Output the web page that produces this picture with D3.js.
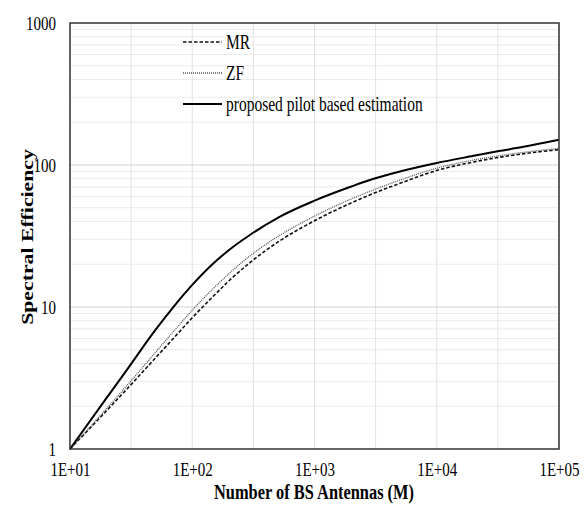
<!DOCTYPE html>
<html>
<head>
<meta charset="utf-8">
<script src="https://cdn.jsdelivr.net/npm/d3@7"></script>
<style>
  body { margin: 0; background: #fff; }
  svg { display: block; }
  text { font-family: "Liberation Serif", "Times New Roman", serif; fill: #000; }
</style>
</head>
<body>
<div id="chart"></div>
<script>
// values (log-log plot)
var antennas = [10, 20, 30, 50, 70, 100, 150, 200, 300, 500, 1000, 2000, 3000, 5000, 10000, 20000, 30000, 50000, 100000];
var mrValues = [1, 1.87, 2.71, 4.38, 6.0, 8.4, 12, 15.3, 20.7, 28.6, 40.5, 54.1, 62.8, 74.3, 91.5, 105, 112, 119.7, 128.3];
var zfValues = [1, 1.93, 2.87, 4.79, 6.7, 9.5, 13.6, 17.2, 23.1, 31.3, 43.7, 57.7, 66.5, 78.3, 95, 108.4, 115, 122.4, 131];
var proposedValues = [1, 2.3, 3.73, 6.89, 9.98, 14.3, 20.4, 25.2, 32.4, 42.5, 56.1, 70.5, 79.6, 90, 103.3, 116, 124, 133.7, 150.4];

var xTicks = [1e1, 1e2, 1e3, 1e4, 1e5];
var yTicks = [1, 10, 100, 1000];
var seriesNames = ["MR", "ZF", "proposed pilot based estimation"];

var width = 588,
    height = 506,
    margin = {top: 23, right: 29, bottom: 57, left: 70};

var stretch = 1.3; // the reference text is drawn taller than wide

var svg = d3.select("#chart").append("svg")
    .attr("width", width)
    .attr("height", height);

var g = svg.append("g")
    .attr("transform", "translate(" + margin.left + "," + margin.top + ")");

var w = width - margin.left - margin.right,
    h = height - margin.top - margin.bottom;

var x = d3.scaleLog().domain([10, 1e5]).range([0, w]);
var y = d3.scaleLog().domain([1, 1000]).range([h, 0]);

// vertical grid, every half decade
var xGrid = [];
for (var e = 1; e < 5; e += 0.5) xGrid.push(Math.pow(10, e));
xGrid.push(1e5);

// horizontal grid, 1..9 in each decade
var yMinor = [];
[1, 10, 100].forEach(function(base) {
  for (var k = 2; k <= 9; k++) yMinor.push(base * k);
});

g.append("g").selectAll("line")
  .data(yMinor)
  .enter().append("line")
    .attr("x1", 0).attr("x2", w)
    .attr("y1", function(d) { return y(d); })
    .attr("y2", function(d) { return y(d); })
    .attr("stroke", "#ebebeb");

g.append("g").selectAll("line")
  .data(xGrid)
  .enter().append("line")
    .attr("x1", function(d) { return x(d); })
    .attr("x2", function(d) { return x(d); })
    .attr("y1", 0).attr("y2", h)
    .attr("stroke", "#e2e2e2");

g.append("g").selectAll("line")
  .data([10, 100])
  .enter().append("line")
    .attr("x1", 0).attr("x2", w)
    .attr("y1", function(d) { return y(d); })
    .attr("y2", function(d) { return y(d); })
    .attr("stroke", "#d0d0d0");

// axes
var xAxis = d3.axisBottom(x)
    .tickValues(xTicks)
    .tickFormat(function(d) { return "1E+0" + Math.round(Math.log10(d)); })
    .tickSize(0);

var gx = g.append("g")
    .attr("transform", "translate(0," + h + ")")
    .call(xAxis);
gx.select(".domain").remove();
gx.selectAll("text")
    .attr("y", 0).attr("dy", null)
    .attr("transform", "translate(0,27) scale(1," + stretch + ")")
    .style("font-size", "15px")
    .attr("fill", "#000");

var yAxis = d3.axisLeft(y)
    .tickValues(yTicks)
    .tickFormat(d3.format("d"))
    .tickSize(0);

var gy = g.append("g").call(yAxis);
gy.select(".domain").remove();
gy.selectAll("text")
    .attr("x", 0).attr("dy", null)
    .attr("transform", "translate(-14,6.5) scale(1," + stretch + ")")
    .style("font-size", "15px")
    .attr("fill", "#000");

// lines
var line = d3.line()
    .x(function(d) { return x(d[0]); })
    .y(function(d) { return y(d[1]); })
    .curve(d3.curveMonotoneX);

var styles = [
  {dash: "3.5,2", width: 1.6, color: "#111"},
  {dash: "1,1", width: 1.3, color: "#555"},
  {dash: null, width: 2, color: "#000"}
];

var series = [mrValues, zfValues, proposedValues].map(function(vals, i) {
  return {name: seriesNames[i], style: styles[i], points: antennas.map(function(a, j) { return [a, vals[j]]; })};
});

g.append("g").selectAll("path")
  .data(series)
  .enter().append("path")
    .attr("d", function(d) { return line(d.points); })
    .attr("fill", "none")
    .attr("stroke", function(d) { return d.style.color; })
    .attr("stroke-width", function(d) { return d.style.width; })
    .attr("stroke-dasharray", function(d) { return d.style.dash; });

// plot border
g.append("rect")
    .attr("width", w).attr("height", h)
    .attr("fill", "none")
    .attr("stroke", "#333")
    .attr("stroke-width", 1.5);

// legend
var legend = svg.append("g").selectAll("g")
  .data(series)
  .enter().append("g")
    .attr("transform", function(d, i) { return "translate(183," + (42 + i * 31) + ")"; });

legend.append("line")
    .attr("x1", 0).attr("x2", 39)
    .attr("stroke", function(d) { return d.style.color; })
    .attr("stroke-width", function(d) { return d.style.width; })
    .attr("stroke-dasharray", function(d) { return d.style.dash; });

legend.append("text")
    .attr("transform", "translate(43,6.7) scale(1," + stretch + ")")
    .style("font-size", "15.5px")
    .text(function(d) { return d.name; });

// axis titles
svg.append("text")
    .attr("transform", "translate(314,499) scale(1," + stretch + ")")
    .attr("text-anchor", "middle")
    .style("font-size", "16.4px")
    .style("font-weight", "bold")
    .text("Number of BS Antennas (M)");

svg.append("text")
    .attr("transform", "translate(33,237) rotate(-90) scale(1.36,1)")
    .attr("text-anchor", "middle")
    .style("font-size", "16px")
    .style("font-weight", "bold")
    .text("Spectral Efficiency");
</script>
</body>
</html>
